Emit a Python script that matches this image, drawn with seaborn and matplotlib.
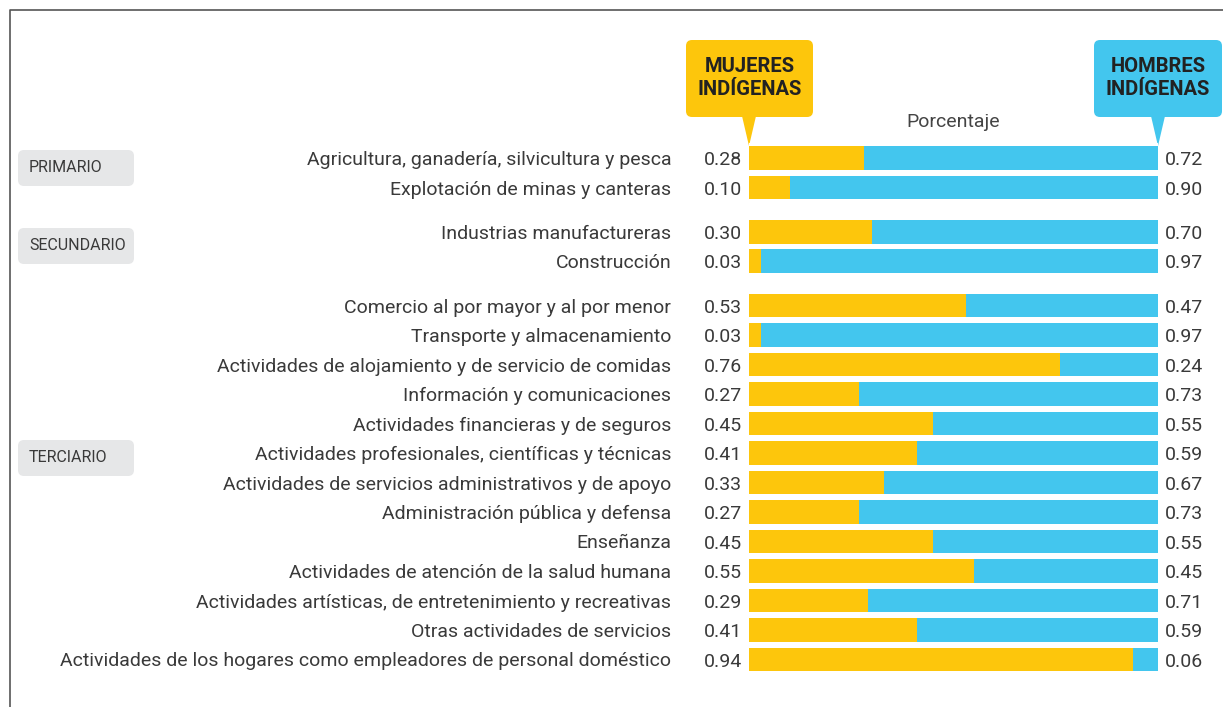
import matplotlib
import numpy as np
import pandas as pd
import seaborn as sns

matplotlib.use("Agg")
import matplotlib.pyplot as plt
from matplotlib.patches import FancyBboxPatch, Polygon

# ── Data ────────────────────────────────────────────────────────────────────
categories = [
    "Agricultura, ganadería, silvicultura y pesca",
    "Explotación de minas y canteras",
    "Industrias manufactureras",
    "Construcción",
    "Comercio al por mayor y al por menor",
    "Transporte y almacenamiento",
    "Actividades de alojamiento y de servicio de comidas",
    "Información y comunicaciones",
    "Actividades financieras y de seguros",
    "Actividades profesionales, científicas y técnicas",
    "Actividades de servicios administrativos y de apoyo",
    "Administración pública y defensa",
    "Enseñanza",
    "Actividades de atención de la salud humana",
    "Actividades artísticas, de entretenimiento y recreativas",
    "Otras actividades de servicios",
    "Actividades de los hogares como empleadores de personal doméstico",
]
sector = [
    "PRIMARIO", "PRIMARIO",
    "SECUNDARIO", "SECUNDARIO",
] + ["TERCIARIO"] * 13
mujeres = [0.28, 0.10, 0.30, 0.03, 0.53, 0.03, 0.76, 0.27, 0.45, 0.41,
           0.33, 0.27, 0.45, 0.55, 0.29, 0.41, 0.94]
hombres = [0.72, 0.90, 0.70, 0.97, 0.47, 0.97, 0.24, 0.73, 0.55, 0.59,
           0.67, 0.73, 0.55, 0.45, 0.71, 0.59, 0.06]
sector_names = ["PRIMARIO", "SECUNDARIO", "TERCIARIO"]

YELLOW = "#FDC60C"
BLUE = "#43C6EE"
TEXT = "#3a3a3a"

# row positions with a half-row gap between sectors
group_gap = 0.5
pos = []
offset = 0.0
for i, s in enumerate(sector):
    if i > 0 and s != sector[i - 1]:
        offset += group_gap
    pos.append(i + offset)

df = pd.DataFrame({
    "categoria": categories,
    "sector": sector,
    "pos": pos,
    "mujeres": mujeres,
    "hombres": hombres,
})
df["total"] = df["mujeres"] + df["hombres"]

plt.rcParams["font.family"] = ["Roboto", "DejaVu Sans"]

W, H = 1223, 707
fig = plt.figure(figsize=(W / 100, H / 100), dpi=100)

# overlay in pixel coordinates for frame, boxes and sector tags
over = fig.add_axes([0, 0, 1, 1])
over.set_xlim(0, W)
over.set_ylim(H, 0)
over.axis("off")
over.plot([10, 10, W], [H, 10, 10], color="#555555", lw=1.2)

# ── Bars ────────────────────────────────────────────────────────────────────
row_px = 29.5
x0, x1 = 749, 1158
first_y = 158
ymin, ymax = -0.5, max(pos) + 0.5
top_px = first_y + ymin * row_px
bot_px = first_y + ymax * row_px
ax = fig.add_axes([x0 / W, 1 - bot_px / H, (x1 - x0) / W, (bot_px - top_px) / H])

sns.barplot(data=df, x="total", y="pos", orient="h", native_scale=True,
            color=BLUE, width=0.8, errorbar=None, saturation=1, ax=ax)
sns.barplot(data=df, x="mujeres", y="pos", orient="h", native_scale=True,
            color=YELLOW, width=0.8, errorbar=None, saturation=1, ax=ax)

ax.set_xlim(0, 1)
ax.set_ylim(ymax, ymin)
ax.set_yticks(df["pos"])
ax.set_yticklabels(df["categoria"], fontsize=14, color=TEXT)
ax.tick_params(axis="y", length=0, pad=56)
ax.set_xticks([])
ax.set_xlabel("")
ax.set_ylabel("")
sns.despine(ax=ax, left=True, bottom=True)

for _, r in df.iterrows():
    ax.annotate(f"{r['mujeres']:.2f}", (0, r["pos"]), xytext=(-5, -1.5),
                textcoords="offset points", ha="right", va="center",
                fontsize=14, color=TEXT)
    ax.annotate(f"{r['hombres']:.2f}", (1, r["pos"]), xytext=(5, -1.5),
                textcoords="offset points", ha="left", va="center",
                fontsize=14, color=TEXT)

# ── Header call-outs ─────────────────────────────────────────────────────────
for (bx0, bx1, tip, col, label) in [
    (686, 813, x0, YELLOW, "MUJERES\nINDÍGENAS"),
    (1094, 1222, x1, BLUE, "HOMBRES\nINDÍGENAS"),
]:
    over.add_patch(FancyBboxPatch((bx0 + 6, 46), bx1 - bx0 - 12, 65,
                                  boxstyle="round,pad=6", fc=col, ec="none"))
    over.add_patch(Polygon([(tip - 7, 116), (tip + 7, 116), (tip, 146)],
                           closed=True, fc=col, ec="none"))
    over.text((bx0 + bx1) / 2, 78, label, ha="center", va="center",
              fontsize=14.5, fontweight="bold", color="#222222",
              linespacing=1.25)

over.text((x0 + x1) / 2, 122, "Porcentaje", ha="center", va="center",
          fontsize=14, color="#444444")

# ── Sector tags ──────────────────────────────────────────────────────────────
tag_centers = [168, 246, 458]
for name, yc in zip(sector_names, tag_centers):
    over.add_patch(FancyBboxPatch((24, yc - 12), 104, 24,
                                  boxstyle="round,pad=6", fc="#E6E7E8", ec="none"))
    over.text(29, yc, name, ha="left", va="center", fontsize=11.5,
              color=TEXT)

fig.savefig("out.png", dpi=100)
